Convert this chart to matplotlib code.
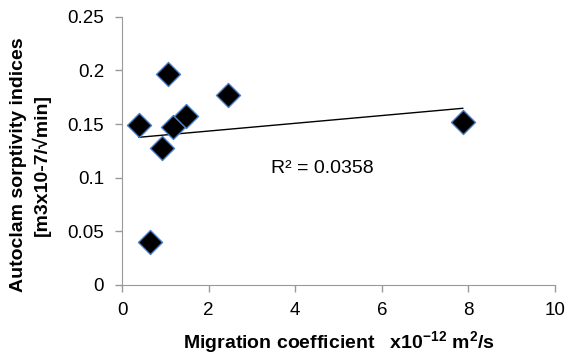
import numpy as np
import matplotlib
matplotlib.use("Agg")
import matplotlib.pyplot as plt

plt.rcParams['font.family'] = ['Liberation Sans', 'DejaVu Sans']
plt.rcParams['mathtext.fontset'] = 'custom'
plt.rcParams['mathtext.rm'] = 'Liberation Sans'
plt.rcParams['mathtext.bf'] = 'Liberation Sans:bold'

# migration coefficient (x10^-12 m2/s) vs autoclam sorptivity
migration = [0.39, 0.65, 0.92, 1.07, 1.18, 1.47, 2.44, 7.87]
sorptivity = [0.149, 0.040, 0.128, 0.197, 0.147, 0.158, 0.177, 0.152]
r2_label = "R² = 0.0358"

fig = plt.figure(figsize=(5.68, 3.58), dpi=100)
ax = fig.add_axes([0.215, 0.204, 0.762, 0.749])

ax.scatter(migration, sorptivity, marker='D', s=150, c='black',
           edgecolors='#4a7fc8', linewidths=1.0, zorder=3)

# linear trendline
slope, intercept = np.polyfit(migration, sorptivity, 1)
xs = np.array([min(migration), max(migration)])
ax.plot(xs, slope * xs + intercept, color='black', linewidth=1.0, zorder=2)

ax.text(4.62, 0.109, r2_label, fontsize=14, ha='center', va='center')

ax.set_xlim(0, 10)
ax.set_ylim(0, 0.25)
ax.set_xticks([0, 2, 4, 6, 8, 10])
ax.set_yticks([0, 0.05, 0.1, 0.15, 0.2, 0.25])
ax.set_yticklabels(['0', '0.05', '0.1', '0.15', '0.2', '0.25'])

for side in ['top', 'right']:
    ax.spines[side].set_visible(False)
for side in ['left', 'bottom']:
    ax.spines[side].set_color('#999999')
ax.tick_params(colors='#999999', labelcolor='black', labelsize=13.5, length=5, width=1)
ax.tick_params(axis='y', pad=8)
ax.tick_params(axis='x', pad=7)

ax.set_xlabel(r"Migration coefficient   x10$^{\mathbf{-12}}$ m$^{\mathbf{2}}$/s",
              fontsize=14, fontweight='bold', labelpad=8)
fig.text(0.053, 0.54, "Autoclam sorptivity indices\n[m3x10-7/√min]",
         rotation=90, ha='center', va='center', fontsize=14,
         fontweight='bold', linespacing=1.3)

fig.savefig("out.png", dpi=100)
